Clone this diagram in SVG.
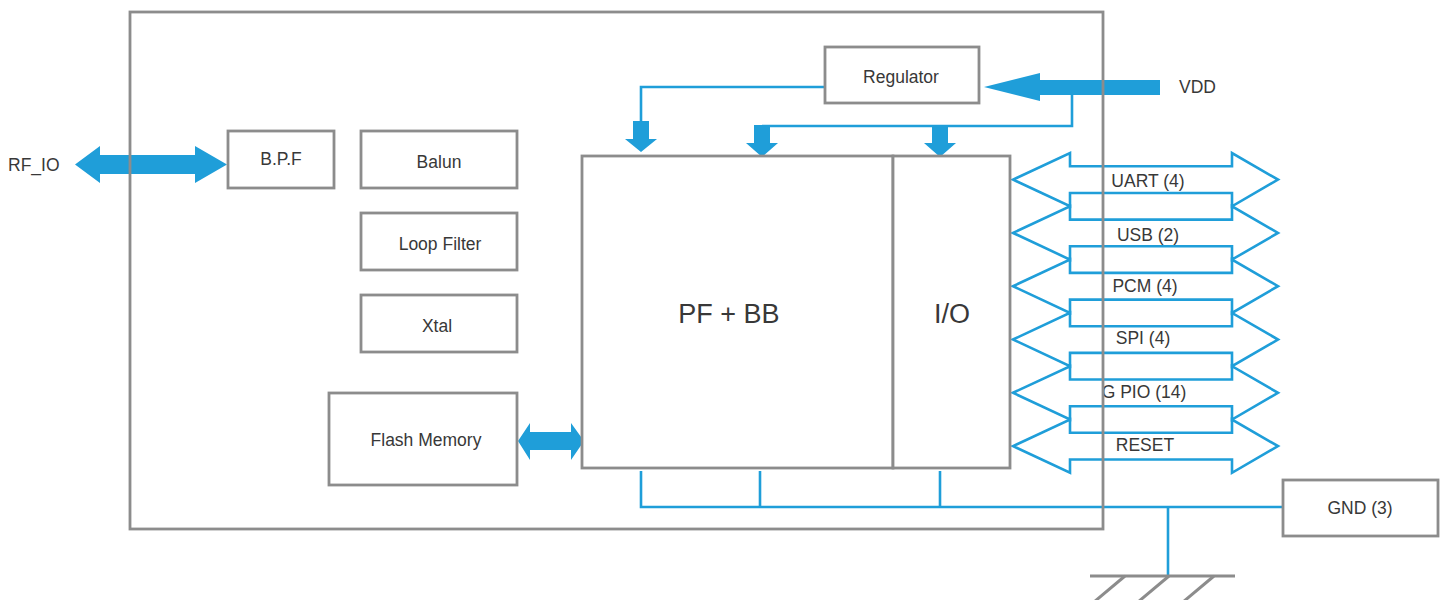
<svg xmlns="http://www.w3.org/2000/svg" width="1445" height="600" viewBox="0 0 1445 600">
<style>
.box{fill:#fff;stroke:#8c8c8c;stroke-width:2.8}
.frame{fill:none;stroke:#8c8c8c;stroke-width:2.8}
.wire{fill:none;stroke:#1f9ed9;stroke-width:2.6}
.fat{fill:#1f9ed9;stroke:none}
.bus{fill:none;stroke:#1f9ed9;stroke-width:2.6;stroke-linejoin:miter}
.gnd{fill:none;stroke:#8c8c8c;stroke-width:3}
text{font-family:"Liberation Sans",Arial,sans-serif;font-size:17.5px;fill:#383838;text-anchor:middle;dominant-baseline:central}
.big{font-size:27px}
.lbl{text-anchor:start}
</style>
<rect width="1445" height="600" fill="#fff"/>
<g id="connectors">
  <!-- RF_IO double arrow -->
  <polygon class="fat" points="75,164.5 100,146 100,155 195,155 195,146 227,164.5 195,183 195,174 100,174 100,183"/>
  <!-- Flash memory double arrow -->
  <polygon class="fat" points="518,441 530,423 530,432 571,432 571,423 584,441 571,460 571,450 530,450 530,460"/>
  <!-- VDD arrow -->
  <polygon class="fat" points="984,87 1040,73 1040,80 1160,80 1160,95 1040,95 1040,101"/>
  <!-- VDD branch -->
  <polyline class="wire" points="1072,94 1072,126 762,126"/>
  <!-- Regulator output -->
  <polyline class="wire" points="825,87 641,87 641,122"/>
  <!-- down arrows -->
  <polygon class="fat" points="633,121 649,121 649,139 657,139 641,152 625,139 633,139"/>
  <polygon class="fat" points="754,125 770,125 770,143 778,143 762,157 746,143 754,143"/>
  <polygon class="fat" points="932,125 948,125 948,143 956,143 940,157 924,143 932,143"/>
  <!-- GND wiring -->
  <polyline class="wire" points="641,471 641,507 1283,507"/>
  <line class="wire" x1="760" y1="471" x2="760" y2="507"/>
  <line class="wire" x1="940" y1="471" x2="940" y2="507"/>
  <line class="wire" x1="1168" y1="507" x2="1168" y2="576"/>
  <!-- ground symbol -->
  <line class="gnd" x1="1090" y1="576" x2="1235" y2="576"/>
  <line class="gnd" x1="1125" y1="576" x2="1094" y2="602"/>
  <line class="gnd" x1="1169" y1="576" x2="1138" y2="602"/>
  <line class="gnd" x1="1214" y1="576" x2="1183" y2="602"/>
  <!-- I/O bus arrows -->
  <polygon class="bus" points="1013,179.6 1070,153 1070,166.3 1232,166.3 1232,153 1278,179.6 1232,206.3 1232,193 1070,193 1070,206.3"/>
  <polygon class="bus" points="1013,232.9 1070,206.3 1070,219.6 1232,219.6 1232,206.3 1278,232.9 1232,259.6 1232,246.3 1070,246.3 1070,259.6"/>
  <polygon class="bus" points="1013,286.2 1070,259.6 1070,272.9 1232,272.9 1232,259.6 1278,286.2 1232,312.9 1232,299.6 1070,299.6 1070,312.9"/>
  <polygon class="bus" points="1013,339.5 1070,312.9 1070,326.2 1232,326.2 1232,312.9 1278,339.5 1232,366.2 1232,352.9 1070,352.9 1070,366.2"/>
  <polygon class="bus" points="1013,392.8 1070,366.2 1070,379.5 1232,379.5 1232,366.2 1278,392.8 1232,419.5 1232,406.2 1070,406.2 1070,419.5"/>
  <polygon class="bus" points="1013,446.1 1070,419.5 1070,432.8 1232,432.8 1232,419.5 1278,446.1 1232,472.8 1232,459.5 1070,459.5 1070,472.8"/>
  <text x="1148" y="181">UART (4)</text>
  <text x="1148" y="235">USB (2)</text>
  <text x="1145" y="286">PCM (4)</text>
  <text x="1143" y="338">SPI (4)</text>
  <text x="1144" y="392">G PIO (14)</text>
  <text x="1145" y="445">RESET</text>
</g>
<g id="chip"><rect class="frame" x="130" y="12" width="973" height="517"/></g>
<g id="rf_io"><text class="lbl" x="8" y="165">RF_IO</text></g>
<g id="vdd"><text class="lbl" x="1179" y="87">VDD</text></g>
<g id="bpf"><rect class="box" x="228" y="131" width="106" height="57"/><text x="281" y="159">B.P.F</text></g>
<g id="balun"><rect class="box" x="361" y="131" width="156" height="57"/><text x="439" y="162">Balun</text></g>
<g id="loopfilter"><rect class="box" x="361" y="213" width="156" height="57"/><text x="440" y="244">Loop Filter</text></g>
<g id="xtal"><rect class="box" x="361" y="295" width="156" height="57"/><text x="437" y="326">Xtal</text></g>
<g id="flash"><rect class="box" x="329" y="393" width="188" height="92"/><text x="426" y="440">Flash Memory</text></g>
<g id="regulator"><rect class="box" x="825" y="47" width="154" height="56"/><text x="901" y="77">Regulator</text></g>
<g id="pfbb"><rect class="box" x="582" y="156" width="311" height="312"/><text class="big" x="729" y="314">PF + BB</text></g>
<g id="io"><rect class="box" x="893" y="156" width="117" height="312"/><text class="big" x="952" y="314">I/O</text></g>
<g id="gndbox"><rect class="box" x="1283" y="480" width="155" height="56"/><text x="1360" y="508">GND (3)</text></g>
</svg>
